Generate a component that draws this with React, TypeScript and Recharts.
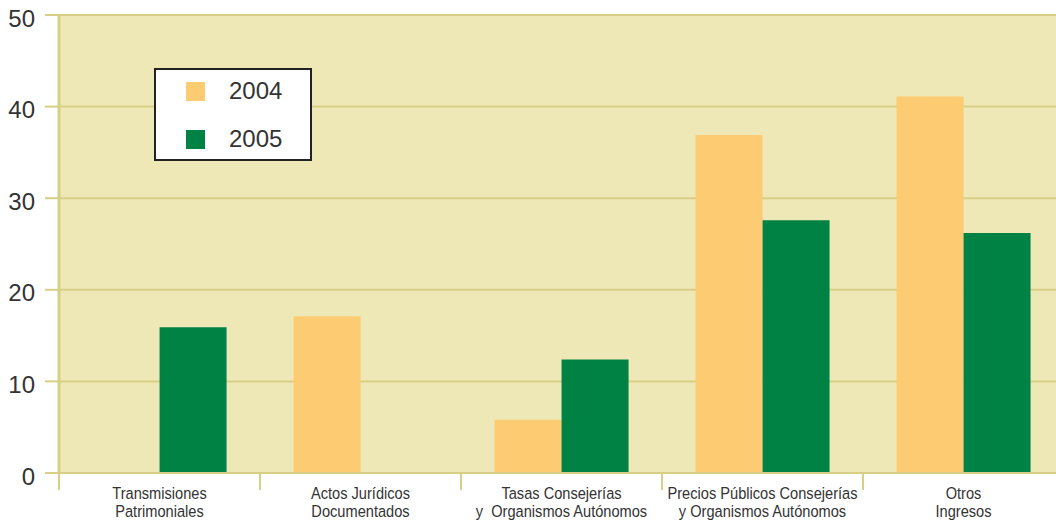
import React from 'react';
import { BarChart, Bar, XAxis, YAxis, CartesianGrid } from 'recharts';

const categories = [
  'Transmisiones\nPatrimoniales',
  'Actos Jurídicos\nDocumentados',
  'Tasas Consejerías\ny  Organismos Autónomos',
  'Precios Públicos Consejerías\ny Organismos Autónomos',
  'Otros\nIngresos',
];
const seriesNames = ['2004', '2005'];
const values2004 = [0, 17.1, 5.8, 36.9, 41.1];
const values2005 = [15.9, 0, 12.4, 27.6, 26.2];
const yTicks = [0, 10, 20, 30, 40, 50];

const data = categories.map((c, i) => ({ name: c, y2004: values2004[i], y2005: values2005[i] }));

const GRID = '#D8CF86';
const BG = '#EEE8B6';
const C2004 = '#FDCB71';
const C2005 = '#008244';
const TEXT = '#333333';
const seriesColors = [C2004, C2005];

const CHART_W = 1064;
const Y_W = 59;
const BAND = (CHART_W - Y_W) / categories.length;
const SX = 0.86;

const XTick = (props: any) => {
  const { x, y, payload } = props;
  const lines = String(payload.value).split('\n');
  return (
    <g>
      <line x1={x - BAND / 2} x2={x - BAND / 2} y1={y} y2={y + 17} stroke={GRID} strokeWidth={2} />
      <g transform={`translate(${x},${y}) scale(${SX},1)`}>
        <text
          x={0}
          y={0}
          textAnchor="middle"
          fill={TEXT}
          style={{ fontFamily: '"Liberation Sans", Arial, sans-serif', fontSize: 17, whiteSpace: 'pre' }}
        >
          {lines.map((l, i) => (
            <tspan key={i} x={0} dy={i === 0 ? 26 : 18}>
              {l}
            </tspan>
          ))}
        </text>
      </g>
    </g>
  );
};

const LegendBox = () => (
  <div
    style={{
      position: 'absolute',
      left: 154,
      top: 68,
      width: 154,
      height: 89,
      background: '#ffffff',
      border: '2px solid #222',
      fontFamily: '"Liberation Sans", Arial, sans-serif',
    }}
  >
    {seriesNames.map((n, i) => (
      <div key={n} style={{ position: 'absolute', left: 30, top: 11 + i * 48, height: 20, display: 'flex', alignItems: 'center' }}>
        <div style={{ width: 19, height: 19, background: seriesColors[i] }} />
        <span style={{ marginLeft: 24, fontSize: 24, color: TEXT, lineHeight: '20px' }}>{n}</span>
      </div>
    ))}
  </div>
);

export default function App() {
  return (
    <div style={{ position: 'absolute', left: 0, top: 0, width: 1056, height: 520, overflow: 'hidden', background: '#fff' }}>
      <BarChart
        width={CHART_W}
        height={520}
        data={data}
        margin={{ top: 15, right: 0, left: 0, bottom: 0 }}
        barCategoryGap="16.7%"
        barGap={0}
      >
        <CartesianGrid vertical={false} stroke={GRID} strokeWidth={2} fill={BG} fillOpacity={1} />
        <XAxis
          dataKey="name"
          interval={0}
          axisLine={{ stroke: GRID, strokeWidth: 2 }}
          tickLine={false}
          tickSize={0}
          tickMargin={0}
          tick={<XTick />}
          height={47}
        />
        <YAxis
          width={Y_W}
          domain={[0, 50]}
          ticks={yTicks}
          axisLine={{ stroke: GRID, strokeWidth: 3 }}
          tickLine={{ stroke: GRID, strokeWidth: 2 }}
          tickSize={14}
          tickMargin={10}
          tick={{ fill: TEXT, fontSize: 24, fontFamily: '"Liberation Sans", Arial, sans-serif', dy: 3 }}
        />
        <Bar dataKey="y2004" name={seriesNames[0]} fill={C2004} isAnimationActive={false} />
        <Bar dataKey="y2005" name={seriesNames[1]} fill={C2005} isAnimationActive={false} />
      </BarChart>
      <LegendBox />
    </div>
  );
}
